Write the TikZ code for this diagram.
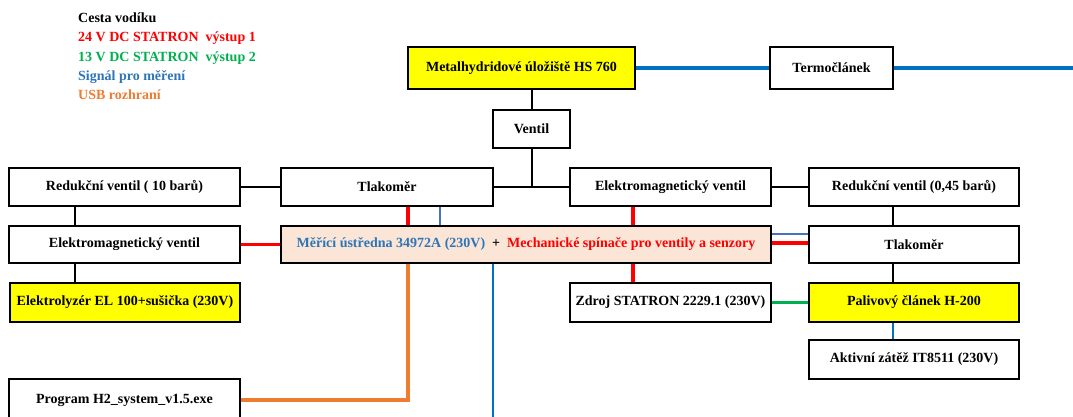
\documentclass[tikz,border=0pt]{standalone}
\usepackage{fontspec}
\setmainfont{Liberation Serif}
\usetikzlibrary{shadows}
\definecolor{cred}{HTML}{FF0000}
\definecolor{cgreen}{HTML}{00B050}
\definecolor{cblue}{HTML}{0070C0}
\definecolor{cblueL}{HTML}{4472C4}
\definecolor{ctblue}{HTML}{2E75B6}
\definecolor{corange}{HTML}{ED7D31}
\definecolor{cpink}{HTML}{FBE5D6}
\definecolor{cyellow}{HTML}{FFFF00}
\tikzset{
  bx/.style={draw=black, line width=1.3pt, fill=white, inner sep=0pt,
    font=\fontsize{14}{16}\selectfont\bfseries,
    drop shadow={shadow xshift=1.2pt, shadow yshift=-1.2pt, opacity=0.55, fill=gray}},
  ybx/.style={bx, fill=cyellow},
  pipe/.style={line width=2pt, black},
  p24/.style={line width=3.6pt, cred},
  p13/.style={line width=3.6pt, cgreen},
  sig/.style={line width=3.6pt, cblue},
  sigthin/.style={line width=2pt, cblueL},
  sigmid/.style={line width=2.4pt, cblue},
  usb/.style={line width=3.6pt, corange},
  leg/.style={anchor=base west, inner sep=0pt, font=\fontsize{14}{16}\selectfont\bfseries}
}
\begin{document}
\begin{tikzpicture}[x=1pt,y=-1pt]
\useasboundingbox (0,0) rectangle (1073,417);
\clip (0,0) rectangle (1073,417);
% legend
\node[leg] (l1) at (78,23) {Cesta vodíku};
\node[leg, text=cred] (l2) at (78,42) {24 V DC STATRON\ \ výstup 1};
\node[leg, text=cgreen] (l3) at (78,61.5) {13 V DC STATRON\ \ výstup 2};
\node[leg, text=ctblue] (l4) at (78,81) {Signál pro měření};
\node[leg, text=corange] (l5) at (78,100) {USB rozhraní};
% helper coordinates
\coordinate (xL) at (75,0);
\coordinate (xA) at (408,0);
\coordinate (xB) at (440,0);
\coordinate (xC) at (493,0);
\coordinate (xM) at (633,0);
\coordinate (xR) at (893,0);
\coordinate (yB) at (0,234);
\coordinate (yR) at (0,243);
\coordinate (edgeR) at (1073,68);
\coordinate (edgeB) at (493,425);
% boxes
\node[ybx, minimum width=227pt, minimum height=42pt] (metal) at (521.5,68) {Metalhydridové úložiště HS 760};
\node[bx, minimum width=123pt, minimum height=42pt] (termo) at (831.5,68) {Termočlánek};
\node[bx, minimum width=77pt, minimum height=38pt] (ventil) at (531.5,129) {Ventil};
\node[bx, minimum width=231pt, minimum height=38pt] (redL) at (124.5,187) {Redukční ventil ( 10 barů)};
\node[bx, minimum width=212pt, minimum height=38pt] (tlakL) at (387,187) {Tlakoměr};
\node[bx, minimum width=201pt, minimum height=38pt] (elmM) at (670.5,187) {Elektromagnetický ventil};
\node[bx, minimum width=210pt, minimum height=38pt] (redR) at (914,187) {Redukční ventil (0,45 barů)};
\node[bx, minimum width=231pt, minimum height=37pt] (elmL) at (124.5,244.5) {Elektromagnetický ventil};
\node[bx, fill=cpink, minimum width=490pt, minimum height=37pt] (ustr) at (526,244.5)
  {\textcolor{ctblue}{Měřící ústředna 34972A (230V)}\ \ +\ \ \textcolor{cred}{Mechanické spínače pro ventily a senzory}};
\node[bx, minimum width=210pt, minimum height=37pt] (tlakR) at (914,244.5) {Tlakoměr};
\node[ybx, minimum width=230pt, minimum height=39pt] (elyz) at (125,302.5) {Elektrolyzér EL 100+sušička (230V)};
\node[bx, minimum width=201pt, minimum height=39pt] (zdroj) at (670.5,302.5) {Zdroj STATRON 2229.1 (230V)};
\node[ybx, minimum width=210pt, minimum height=39pt] (paliv) at (914,302.5) {Palivový článek H-200};
\node[bx, minimum width=210pt, minimum height=39pt] (zatez) at (914,359.5) {Aktivní zátěž IT8511 (230V)};
\node[bx, minimum width=231pt, minimum height=42pt] (prog) at (124.5,400) {Program H2\_system\_v1.5.exe};
% connectors
\begin{scope}[on background layer/.style={}]
\draw[sig] (metal.east) -- (termo.west);
\draw[sig] (termo.east) -- (edgeR);
\draw[pipe] (metal.south -| ventil.north) -- (ventil.north);
\draw[pipe] (ventil.south) -- (ventil.south |- tlakL.east);
\draw[pipe] (tlakL.east) -- (elmM.west);
\draw[pipe] (redL.east) -- (tlakL.west);
\draw[pipe] (elmM.east) -- (redR.west);
\draw[pipe] (redL.south -| xL) -- (elmL.north -| xL);
\draw[pipe] (elmL.south -| xL) -- (elyz.north -| xL);
\draw[pipe] (redR.south -| xR) -- (tlakR.north -| xR);
\draw[pipe] (tlakR.south -| xR) -- (paliv.north -| xR);
\draw[p24] (elmL.east) -- (ustr.west);
\draw[p24] (tlakL.south -| xA) -- (ustr.north -| xA);
\draw[sigthin] (tlakL.south -| xB) -- (ustr.north -| xB);
\draw[p24] (elmM.south -| xM) -- (ustr.north -| xM);
\draw[p24] (ustr.south -| xM) -- (zdroj.north -| xM);
\draw[sigthin] (ustr.east |- yB) -- (tlakR.west |- yB);
\draw[p24] (ustr.east |- yR) -- (tlakR.west |- yR);
\draw[p13] (zdroj.east) -- (paliv.west);
\draw[sigmid] (paliv.south -| xR) -- (zatez.north -| xR);
\draw[usb] (ustr.south -| xA) |- (prog.east);
\draw[sigmid] (ustr.south -| xC) -- (edgeB);
\end{scope}
\end{tikzpicture}
\end{document}
